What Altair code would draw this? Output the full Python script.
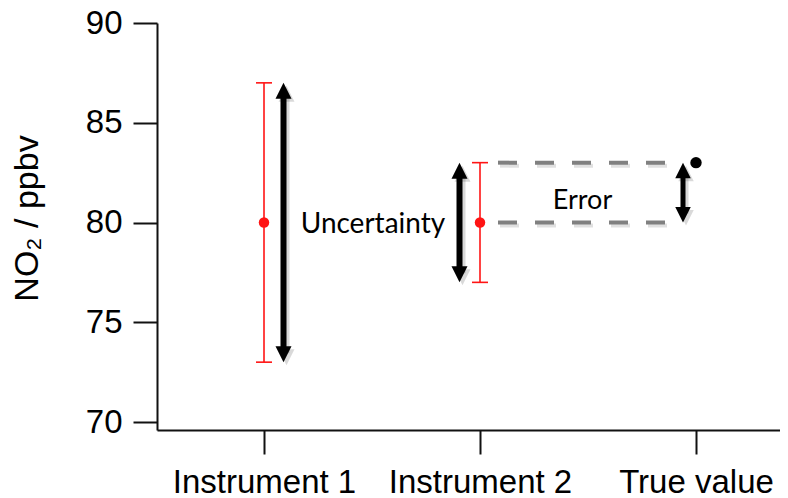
import json
import altair as alt
import pandas as pd

# ---------------- data ----------------
categories = ["Instrument 1", "Instrument 2", "True value"]
instrument_index = [0, 1]
instrument_values = [80, 80]
instrument_low = [73, 77]
instrument_high = [87, 83]
true_index = [2]
true_values = [83]
y_ticks = [70, 75, 80, 85, 90]
y_domain = [69.6, 90]
x_domain = [-0.4954, 2.3889]
y_title = "NO\u2082 / ppbv"
note_texts = ["Uncertainty", "Error"]

# ---------------- tables ----------------
inst = pd.DataFrame({"x": instrument_index, "value": instrument_values,
                     "lo": instrument_low, "hi": instrument_high})
truth = pd.DataFrame({"x": true_index, "value": true_values})
dashes = pd.DataFrame({"xs": [instrument_index[1]] * 2, "xe": [true_index[0]] * 2,
                       "y": [instrument_values[1], true_values[0]]})
err = pd.DataFrame({"x": true_index, "lo": [instrument_values[1]], "hi": true_values})
unc_notes = pd.DataFrame({"x": [instrument_index[0]], "y": [instrument_values[0]], "t": [note_texts[0]]})
err_notes = pd.DataFrame({"x": [(instrument_index[1] + true_index[0]) / 2],
                          "y": [(instrument_values[1] + true_values[0]) / 2], "t": [note_texts[1]]})

label_expr = json.dumps(categories) + "[datum.value]"

xscale = alt.Scale(domain=x_domain, nice=False, zero=False)
yscale = alt.Scale(domain=y_domain, nice=False, zero=False)
xaxis = alt.Axis(values=[0, 1, 2], labelExpr=label_expr, title=None, grid=False,
                 tickSize=24, tickWidth=2, tickColor="#111", domainWidth=2, domainColor="#111",
                 labelFont="Liberation Sans", labelFontSize=33, labelColor="#000",
                 labelPadding=12, labelFlush=False, labelOverlap=False, labelLimit=0)
yaxis = alt.Axis(values=y_ticks, title=y_title, grid=False,
                 tickSize=24, tickWidth=2, tickColor="#111", domainWidth=2, domainColor="#111",
                 labelFont="Liberation Sans", labelFontSize=33, labelColor="#000",
                 labelPadding=11, labelLimit=0,
                 titleFont="Liberation Sans", titleFontSize=34, titleFontWeight="normal",
                 titleColor="#000", titleX=-113, titleY=195, titleAngle=270,
                 titleBaseline="bottom", titleAlign="center", titleLimit=0)


def X(f="x"):
    return alt.X(f"{f}:Q", scale=xscale, axis=xaxis)


def Y(f):
    return alt.Y(f"{f}:Q", scale=yscale, axis=yaxis)


UP = "M0,0L-1,2L1,2Z"
DOWN = "M0,0L-1,-2L1,-2Z"


def arrow(df, dx, shaft=6, head=256, color="black", opacity=1.0, sx=0, sy=0):
    base = alt.Chart(df)
    s = base.mark_rule(strokeWidth=shaft, color=color, opacity=opacity,
                       xOffset=dx + sx, yOffset=12 + sy, y2Offset=-12 + sy).encode(
        x=X(), y=Y("hi"), y2="lo:Q")
    u = base.mark_point(shape=UP, filled=True, size=head, color=color, opacity=opacity,
                        strokeWidth=0, xOffset=dx + sx, yOffset=sy).encode(x=X(), y=Y("hi"))
    d = base.mark_point(shape=DOWN, filled=True, size=head, color=color, opacity=opacity,
                        strokeWidth=0, xOffset=dx + sx, yOffset=sy).encode(x=X(), y=Y("lo"))
    return [s, u, d]


RED = "#ff1414"
inst_base = alt.Chart(inst)
layers = []

# dashed helper lines (shadow + line)
layers.append(alt.Chart(dashes).mark_rule(strokeWidth=4, color="#000", opacity=0.12,
                                          strokeDash=[19, 18], xOffset=20, x2Offset=-11, yOffset=3).encode(
    x=X("xs"), x2="xe:Q", y=Y("y")))
layers.append(alt.Chart(dashes).mark_rule(strokeWidth=4, color="#808080",
                                          strokeDash=[19, 18], xOffset=18, x2Offset=-13).encode(
    x=X("xs"), x2="xe:Q", y=Y("y")))

# arrow shadows
layers += arrow(inst.iloc[[0]], 19.5, color="#000", opacity=0.15, sx=3, sy=3)
layers += arrow(inst.iloc[[1]], -20.5, color="#000", opacity=0.15, sx=3, sy=3)
layers += arrow(err, -13, shaft=5, head=240, color="#000", opacity=0.15, sx=3, sy=3)
# arrows
layers += arrow(inst.iloc[[0]], 19.5)
layers += arrow(inst.iloc[[1]], -20.5)
layers += arrow(err, -13, shaft=5, head=240)

# red error bars
layers.append(inst_base.mark_rule(strokeWidth=1.6, color=RED).encode(x=X(), y=Y("lo"), y2="hi:Q"))
layers.append(inst_base.mark_rule(strokeWidth=1.6, color=RED, xOffset=-8, x2Offset=8).encode(
    x=X(), x2="x:Q", y=Y("hi")))
layers.append(inst_base.mark_rule(strokeWidth=1.6, color=RED, xOffset=-8, x2Offset=8).encode(
    x=X(), x2="x:Q", y=Y("lo")))
layers.append(inst_base.mark_point(shape="circle", filled=True, size=110, color=RED, opacity=1,
                                   strokeWidth=0).encode(x=X(), y=Y("value")))

# true value dot
layers.append(alt.Chart(truth).mark_point(shape="circle", filled=True, size=130, color="#000",
                                          opacity=1, strokeWidth=0).encode(x=X(), y=Y("value")))

# annotations
layers.append(alt.Chart(unc_notes).mark_text(align="left", baseline="middle", dx=36.7, dy=2,
                                             font="Lato", fontSize=28, color="#000").encode(
    x=X(), y=Y("y"), text="t:N"))
layers.append(alt.Chart(err_notes).mark_text(align="center", baseline="middle", dx=-5.5, dy=8,
                                             font="Lato", fontSize=27, color="#000").encode(
    x=X(), y=Y("y"), text="t:N"))

chart = alt.layer(*layers).properties(
    width=623, height=407,
    autosize=alt.AutoSizeParams(type="none"),
    padding={"left": 149, "top": 15, "right": 0, "bottom": 68},
    background="white",
).configure_view(stroke=None)

chart.save("out.html", embed_options={"renderer": "svg", "actions": False})
